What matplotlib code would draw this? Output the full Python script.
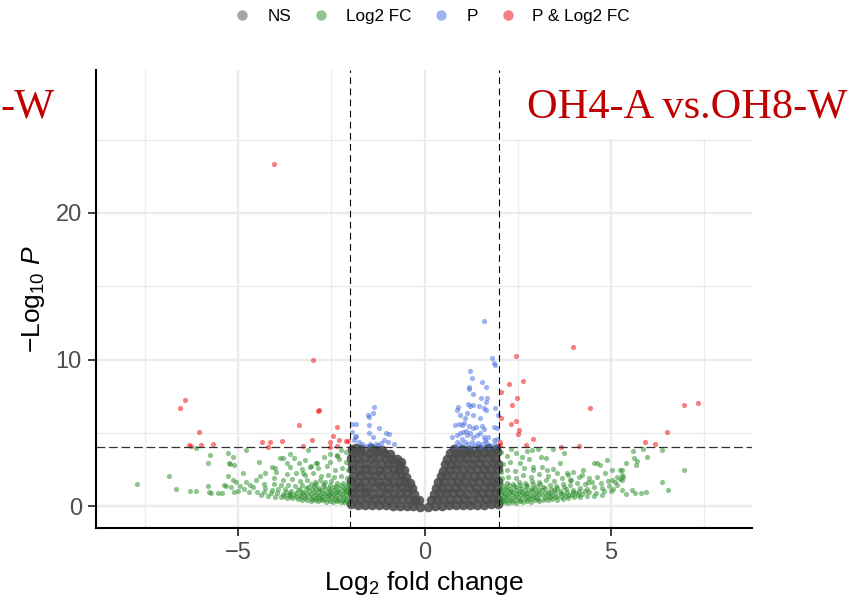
import numpy as np
import matplotlib.pyplot as plt
from matplotlib.lines import Line2D
from matplotlib.patches import Rectangle

plt.rcParams['font.family'] = ['Liberation Sans', 'DejaVu Sans']
plt.rcParams['mathtext.fontset'] = 'custom'
plt.rcParams['mathtext.rm'] = 'Liberation Sans'
plt.rcParams['mathtext.it'] = 'Liberation Sans:italic'

# ---- data (log2 fold change, -log10 p) ----
legend_labels = ['NS', 'Log2 FC', 'P', 'P & Log2 FC']
fc_cutoff = 2.0
p_cutoff = 4.03

# not significant: the dense V shaped cloud in the middle
ns_points = [
    (-1.97, 0.15), (-1.78, 0.12), (-1.6, 0.1), (-1.41, 0.08), (-1.22, 0.1), (-1.03, 0.06), (-0.85, 0.05),
    (-0.66, 0.04), (-0.47, 0.02), (-0.3, 0.0), (-0.12, -0.08),
    (-1.93, 0.52), (-1.74, 0.47), (-1.55, 0.55), (-1.36, 0.49), (-1.17, 0.5), (-0.98, 0.46), (-0.79, 0.53),
    (-0.6, 0.48), (-0.42, 0.51), (-0.25, 0.45), (-0.14, 0.4),
    (-1.96, 0.92), (-1.77, 0.88), (-1.58, 0.95), (-1.4, 0.86), (-1.2, 0.9), (-1.01, 0.93), (-0.83, 0.87),
    (-0.64, 0.91), (-0.46, 0.89), (-0.29, 0.85),
    (-1.94, 1.28), (-1.75, 1.33), (-1.56, 1.26), (-1.37, 1.31), (-1.18, 1.35), (-0.99, 1.27), (-0.8, 1.3),
    (-0.62, 1.34), (-0.45, 1.29), (-0.33, 1.25),
    (-1.97, 1.72), (-1.78, 1.68), (-1.59, 1.74), (-1.4, 1.7), (-1.21, 1.66), (-1.02, 1.73), (-0.84, 1.69),
    (-0.66, 1.71), (-0.5, 1.67), (-0.4, 1.62),
    (-1.93, 2.08), (-1.74, 2.13), (-1.55, 2.1), (-1.36, 2.06), (-1.17, 2.12), (-0.98, 2.09), (-0.8, 2.14),
    (-0.63, 2.07), (-0.49, 2.02),
    (-1.96, 2.52), (-1.77, 2.47), (-1.58, 2.55), (-1.39, 2.5), (-1.2, 2.46), (-1.01, 2.53), (-0.83, 2.49),
    (-0.68, 2.51), (-0.56, 2.45),
    (-1.94, 2.88), (-1.75, 2.93), (-1.56, 2.86), (-1.37, 2.92), (-1.18, 2.9), (-0.99, 2.87), (-0.82, 2.94),
    (-0.67, 2.82),
    (-1.97, 3.32), (-1.78, 3.27), (-1.6, 3.35), (-1.41, 3.29), (-1.22, 3.33), (-1.04, 3.28), (-0.88, 3.25),
    (-0.74, 3.2),
    (-1.92, 3.62), (-1.72, 3.68), (-1.5, 3.6), (-1.3, 3.7), (-1.1, 3.64), (-0.92, 3.55),
    (-1.95, 3.92), (-1.7, 3.88), (-1.45, 3.95), (-1.28, 3.85), (-1.85, 3.97), (-1.15, 3.82), (-0.62, 3.05),
    (0.1, -0.05), (0.28, 0.02), (0.46, 0.05), (0.65, 0.08), (0.84, 0.06), (1.03, 0.1), (1.22, 0.09),
    (1.41, 0.12), (1.6, 0.1), (1.79, 0.14), (1.97, 0.16),
    (0.16, 0.42), (0.32, 0.48), (0.5, 0.52), (0.69, 0.47), (0.88, 0.53), (1.07, 0.5), (1.26, 0.46),
    (1.45, 0.54), (1.64, 0.49), (1.83, 0.51), (1.96, 0.48),
    (0.24, 0.87), (0.4, 0.92), (0.58, 0.88), (0.77, 0.94), (0.96, 0.9), (1.15, 0.86), (1.34, 0.93),
    (1.53, 0.89), (1.72, 0.91), (1.91, 0.88),
    (0.3, 1.26), (0.45, 1.31), (0.63, 1.28), (0.82, 1.34), (1.01, 1.29), (1.2, 1.32), (1.39, 1.27),
    (1.58, 1.33), (1.77, 1.3), (1.95, 1.28),
    (0.36, 1.66), (0.52, 1.71), (0.7, 1.74), (0.89, 1.68), (1.08, 1.72), (1.27, 1.69), (1.46, 1.73),
    (1.65, 1.7), (1.84, 1.67), (1.97, 1.72),
    (0.43, 2.05), (0.58, 2.1), (0.76, 2.13), (0.95, 2.08), (1.14, 2.12), (1.33, 2.07), (1.52, 2.11),
    (1.71, 2.14), (1.9, 2.09),
    (0.5, 2.44), (0.65, 2.5), (0.83, 2.53), (1.02, 2.48), (1.21, 2.52), (1.4, 2.46), (1.59, 2.54),
    (1.78, 2.49), (1.96, 2.51),
    (0.55, 2.85), (0.7, 2.91), (0.88, 2.88), (1.07, 2.93), (1.26, 2.87), (1.45, 2.92), (1.64, 2.89),
    (1.83, 2.94), (1.97, 2.9),
    (0.6, 3.25), (0.75, 3.3), (0.93, 3.34), (1.12, 3.28), (1.31, 3.32), (1.5, 3.27), (1.69, 3.35),
    (1.88, 3.31),
    (0.68, 3.6), (0.85, 3.66), (1.03, 3.62), (1.22, 3.7), (1.41, 3.64), (1.6, 3.68), (1.79, 3.61),
    (1.95, 3.67),
    (0.8, 3.9), (1.0, 3.94), (1.2, 3.87), (1.45, 3.92), (1.7, 3.95), (1.92, 3.89),
]

# |log2 FC| > 2 only
fc_points = [
    (-2.05, 0.22), (-2.15, 0.3), (-2.25, 0.26), (-2.35, 0.33), (-2.45, 0.28), (-2.55, 0.36), (-2.65, 0.31),
    (-2.75, 0.4), (-2.85, 0.35), (-2.95, 0.42), (-3.05, 0.38), (-3.15, 0.46), (-3.28, 0.44), (-3.4, 0.5),
    (-3.55, 0.55), (-3.7, 0.58), (-3.85, 0.62), (-4.0, 0.66), (-4.2, 0.72), (-4.4, 0.78),
    (-2.1, 0.4), (-2.2, 0.45), (-2.32, 0.42), (-2.42, 0.48), (-2.58, 0.47), (-2.7, 0.52), (-2.8, 0.5),
    (-2.92, 0.56), (-3.02, 0.52), (-3.2, 0.58), (-3.32, 0.6), (-3.45, 0.65), (-3.62, 0.68), (-3.78, 0.72),
    (-2.08, 0.55), (-2.18, 0.62), (-2.3, 0.58), (-2.4, 0.66), (-2.52, 0.6), (-2.62, 0.68), (-2.74, 0.63),
    (-2.86, 0.7), (-2.98, 0.65), (-3.1, 0.72), (-3.22, 0.68), (-3.35, 0.76), (-3.5, 0.8), (-3.64, 0.75),
    (-3.8, 0.85), (-3.95, 0.9), (-4.12, 0.88), (-4.3, 0.95), (-4.5, 1.0),
    (-2.12, 0.75), (-2.22, 0.8), (-2.34, 0.76), (-2.46, 0.82), (-2.56, 0.78), (-2.68, 0.84), (-2.8, 0.8),
    (-2.92, 0.86), (-3.05, 0.84), (-3.18, 0.9), (-3.3, 0.88), (-3.46, 0.94), (-3.6, 0.92), (-3.72, 0.98),
    (-2.04, 0.88), (-2.14, 0.95), (-2.26, 0.9), (-2.38, 0.98), (-2.5, 0.92), (-2.6, 1.0), (-2.72, 0.94),
    (-2.84, 1.02), (-2.97, 0.96), (-3.1, 1.05), (-3.25, 1.0), (-3.4, 1.1), (-3.58, 1.05), (-3.75, 1.15),
    (-3.92, 1.2), (-4.1, 1.12), (-4.28, 1.25),
    (-2.1, 1.05), (-2.2, 1.1), (-2.32, 1.06), (-2.44, 1.14), (-2.55, 1.08), (-2.66, 1.16), (-2.78, 1.12),
    (-2.9, 1.2), (-3.03, 1.16), (-3.18, 1.22), (-3.35, 1.2),
    (-2.06, 1.2), (-2.17, 1.28), (-2.3, 1.22), (-2.44, 1.32), (-2.57, 1.25), (-2.7, 1.35), (-2.83, 1.28),
    (-2.97, 1.38), (-3.12, 1.3), (-3.3, 1.42), (-3.48, 1.36), (-3.66, 1.48), (-3.85, 1.42), (-4.05, 1.55),
    (-4.3, 1.5),
    (-2.1, 1.38), (-2.24, 1.45), (-2.38, 1.4), (-2.55, 1.48), (-2.72, 1.5), (-2.9, 1.52), (-3.05, 1.55),
    (-2.05, 1.55), (-2.2, 1.62), (-2.36, 1.58), (-2.5, 1.7), (-2.66, 1.64), (-2.8, 1.78), (-2.95, 1.68),
    (-3.15, 1.8), (-3.35, 1.72), (-3.55, 1.85), (-3.8, 1.78), (-4.05, 1.9),
    (-2.08, 1.95), (-2.25, 2.05), (-2.42, 1.98), (-2.6, 2.15), (-2.78, 2.05), (-2.98, 2.25), (-3.2, 2.1),
    (-3.45, 2.3), (-3.7, 2.2), (-3.98, 2.35),
    (-2.05, 2.45), (-2.22, 2.6), (-2.4, 2.5), (-2.62, 2.72), (-2.85, 2.6), (-3.05, 2.78), (-3.3, 2.55),
    (-3.6, 2.68),
    (-2.1, 3.0), (-2.3, 3.2), (-2.55, 3.05), (-2.9, 2.95), (-3.2, 3.15), (-3.5, 3.3), (-2.35, 3.5),
    (-2.12, 3.7), (-2.25, 3.85), (-4.8, 3.86),
    (-7.7, 1.5), (-6.86, 2.09), (-6.66, 1.16), (-6.3, 1.06), (-6.12, 1.04), (-6.13, 3.97), (-5.75, 3.52),
    (-5.8, 2.95), (-5.82, 1.38), (-5.79, 0.95), (-5.73, 0.93), (-5.54, 0.89), (-5.44, 0.89), (-5.37, 1.43),
    (-5.27, 3.65), (-5.15, 3.34), (-5.25, 2.97), (-5.21, 2.88), (-5.11, 2.79), (-5.28, 2.09), (-5.13, 1.79),
    (-5.06, 1.63), (-5.33, 1.41), (-5.2, 1.3), (-4.86, 2.25), (-4.79, 1.68), (-4.68, 1.45), (-4.52, 1.79),
    (-4.41, 2.07), (-4.43, 3.0), (-4.29, 2.25), (-4.1, 2.7), (-4.01, 2.59), (-3.89, 3.27), (-3.79, 3.27),
    (-3.62, 3.56), (-3.69, 2.97), (-3.37, 2.95), (-3.12, 3.86), (-3.25, 2.25), (-3.07, 2.7), (-2.89, 2.93),
    (-2.71, 3.38), (-2.53, 3.56), (-2.35, 3.43),
    (-5.0, 1.05), (-4.85, 1.2), (-4.7, 0.95), (-4.6, 1.3), (-4.95, 1.4), (-5.1, 0.98),
    (2.05, 0.2), (2.15, 0.26), (2.25, 0.22), (2.35, 0.3), (2.45, 0.25), (2.55, 0.33), (2.65, 0.28),
    (2.75, 0.36), (2.85, 0.32), (2.95, 0.4), (3.06, 0.35), (3.18, 0.43), (3.3, 0.4), (3.42, 0.48),
    (3.55, 0.45), (3.7, 0.52), (3.85, 0.55), (4.0, 0.6), (4.18, 0.62), (4.35, 0.68), (4.55, 0.72),
    (4.75, 0.78),
    (2.1, 0.38), (2.2, 0.42), (2.32, 0.4), (2.42, 0.46), (2.56, 0.44), (2.68, 0.5), (2.8, 0.48),
    (2.92, 0.55), (3.04, 0.52), (3.22, 0.58), (3.36, 0.6), (3.5, 0.64), (3.66, 0.66), (3.8, 0.7),
    (3.96, 0.74), (4.12, 0.78),
    (2.08, 0.52), (2.18, 0.6), (2.3, 0.55), (2.42, 0.64), (2.54, 0.58), (2.66, 0.67), (2.78, 0.6),
    (2.9, 0.7), (3.02, 0.65), (3.15, 0.74), (3.28, 0.68), (3.42, 0.78), (3.56, 0.72), (3.72, 0.84),
    (3.88, 0.8), (4.05, 0.9), (4.22, 0.85), (4.4, 0.96), (4.6, 0.92), (4.8, 1.02), (5.0, 1.06),
    (2.12, 0.72), (2.22, 0.78), (2.34, 0.74), (2.46, 0.8), (2.58, 0.76), (2.7, 0.82), (2.82, 0.78),
    (2.95, 0.86), (3.08, 0.82), (3.22, 0.9), (3.36, 0.88), (3.5, 0.95), (3.66, 0.92), (3.82, 1.0),
    (3.98, 0.98), (4.14, 1.04), (4.3, 1.02),
    (2.04, 0.85), (2.14, 0.92), (2.26, 0.88), (2.38, 0.97), (2.5, 0.9), (2.62, 1.0), (2.75, 0.94),
    (2.88, 1.04), (3.02, 0.97), (3.16, 1.08), (3.3, 1.0), (3.46, 1.12), (3.62, 1.05), (3.8, 1.18),
    (3.98, 1.1), (4.16, 1.22), (4.35, 1.15), (4.55, 1.3), (4.75, 1.25), (4.95, 1.38), (5.15, 1.45),
    (2.1, 1.02), (2.2, 1.08), (2.32, 1.05), (2.44, 1.12), (2.56, 1.06), (2.68, 1.14), (2.8, 1.1),
    (2.94, 1.18), (3.08, 1.14), (3.24, 1.22), (3.4, 1.2), (3.56, 1.28), (3.74, 1.3),
    (2.06, 1.18), (2.18, 1.26), (2.3, 1.2), (2.44, 1.3), (2.58, 1.24), (2.72, 1.35), (2.87, 1.28),
    (3.02, 1.4), (3.18, 1.32), (3.35, 1.45), (3.52, 1.38), (3.7, 1.5), (3.9, 1.44), (4.1, 1.58),
    (4.3, 1.52), (4.5, 1.65), (4.72, 1.6), (4.92, 1.72), (5.1, 1.68), (5.25, 1.85),
    (2.12, 1.36), (2.26, 1.42), (2.4, 1.38), (2.56, 1.46), (2.74, 1.48), (2.92, 1.5), (3.1, 1.55),
    (2.05, 1.52), (2.2, 1.6), (2.36, 1.55), (2.52, 1.68), (2.7, 1.6), (2.88, 1.75), (3.06, 1.66),
    (3.26, 1.8), (3.46, 1.72), (3.68, 1.9), (3.92, 1.82), (4.15, 1.98), (4.4, 1.9),
    (2.08, 1.9), (2.25, 2.02), (2.44, 1.95), (2.64, 2.12), (2.85, 2.0), (3.08, 2.2), (3.3, 2.08),
    (3.56, 2.28), (3.84, 2.15),
    (2.05, 2.35), (2.22, 2.5), (2.42, 2.4), (2.66, 2.62), (2.9, 2.5), (3.15, 2.7), (3.45, 2.55),
    (2.1, 2.85), (2.3, 3.05), (2.55, 2.95), (2.8, 3.25), (2.2, 3.4), (2.45, 3.6), (2.05, 3.7), (2.32, 3.88),
    (5.59, 3.77), (5.87, 3.88), (6.36, 3.84), (5.61, 3.31), (5.7, 3.07), (5.67, 2.82), (5.97, 3.36),
    (5.39, 2.93), (6.96, 2.47), (6.37, 1.64), (6.54, 1.13), (5.56, 1.13), (5.64, 0.91), (5.8, 0.93),
    (5.93, 0.95), (5.39, 0.84), (5.3, 1.11), (5.29, 2.47), (5.29, 2.13), (5.29, 1.79), (5.33, 2.02),
    (5.24, 2.47), (5.15, 2.02), (5.02, 1.79), (4.88, 3.16), (4.71, 2.82), (4.62, 2.93), (5.06, 1.16),
    (2.61, 3.34), (2.74, 3.77), (2.88, 3.84), (3.12, 3.34), (3.26, 3.27), (3.44, 3.89), (3.74, 3.61),
    (3.63, 2.93), (3.05, 3.89), (2.92, 2.7), (3.28, 2.47), (4.26, 2.47), (4.53, 2.93), (4.21, 2.13),
    (3.99, 2.36), (3.81, 2.25), (3.9, 1.79), (4.39, 1.68), (4.62, 2.02), (4.84, 2.25), (5.02, 2.47),
]

# p below cutoff only
p_points = [
    (-1.37, 6.79), (-1.53, 6.22), (-1.5, 6.07), (-1.38, 6.38), (-1.95, 5.61), (-1.84, 5.63), (-1.48, 5.54),
    (-1.23, 5.34), (-1.95, 5.09), (-1.87, 4.7), (-1.84, 4.79), (-1.48, 5.02), (-1.39, 4.74), (-1.04, 4.98),
    (-0.96, 4.93), (-1.75, 4.4), (-1.68, 4.25), (-1.89, 4.52), (-1.3, 4.25), (-1.17, 4.34), (-1.08, 4.52),
    (-0.97, 4.4), (-0.82, 4.25), (-1.25, 4.16), (-1.46, 4.25), (-1.57, 4.11),
    (1.58, 12.63), (1.81, 10.09), (1.86, 9.75), (1.9, 9.63), (1.22, 9.2), (1.27, 8.72), (1.53, 8.47),
    (1.66, 8.13), (1.18, 8.15), (1.19, 7.97), (1.3, 7.68), (1.52, 7.36), (1.68, 7.4), (1.64, 7.13),
    (0.89, 6.79), (0.86, 6.56), (1.17, 6.97), (1.22, 6.84), (1.31, 6.88), (1.45, 6.84), (1.59, 6.68),
    (1.66, 6.56), (1.9, 6.72), (1.08, 6.0), (0.95, 6.22), (1.31, 6.22), (1.49, 6.0), (1.14, 6.34),
    (0.81, 5.54), (0.91, 5.61), (1.0, 5.54), (1.05, 5.7), (1.2, 5.47), (1.29, 5.32), (1.39, 5.41),
    (1.53, 5.47), (1.59, 5.25), (1.86, 5.43), (1.94, 5.32), (1.98, 6.22),
    (0.73, 4.74), (0.86, 4.86), (0.95, 4.98), (1.04, 5.09), (1.13, 4.86), (1.22, 4.98), (1.31, 4.74),
    (1.4, 4.86), (1.49, 4.98), (1.58, 4.74), (1.71, 4.7), (1.85, 4.52), (1.94, 4.57),
    (0.86, 4.4), (0.95, 4.25), (1.08, 4.4), (1.17, 4.25), (1.27, 4.4), (1.35, 4.16), (1.44, 4.34),
    (1.53, 4.25), (1.66, 4.38), (1.76, 4.16), (1.89, 4.25), (1.98, 4.12), (0.81, 4.1), (1.04, 4.05),
    (1.27, 4.05), (1.49, 4.05), (1.72, 4.05), (1.0, 4.6), (1.62, 4.55), (1.12, 5.15),
]

# both cutoffs passed
pfc_points = [
    (-4.05, 23.33), (-2.98, 10.0),
    (-6.42, 7.22), (-6.55, 6.72), (-6.05, 5.04), (-6.33, 4.18), (-6.27, 4.12), (-6.0, 4.17), (-5.68, 4.28),
    (-4.37, 4.4), (-4.15, 4.36), (-3.83, 4.45), (-4.19, 4.05), (-3.25, 4.13), (-3.03, 4.55), (-3.38, 5.56),
    (-2.87, 6.5), (-2.84, 6.58), (-2.36, 5.38), (-2.45, 4.76), (-2.53, 4.36), (-2.3, 4.5), (-2.54, 4.05),
    (-2.35, 4.08), (-2.1, 4.46), (-2.05, 4.45),
    (3.98, 10.88), (2.45, 10.22), (2.63, 8.56), (2.27, 8.31), (2.05, 7.77), (2.48, 7.36), (2.34, 6.88),
    (4.44, 6.72), (6.95, 6.9), (7.32, 7.02), (2.05, 6.02), (2.45, 5.84), (2.33, 5.63), (2.54, 5.18),
    (2.5, 4.93), (2.91, 4.61), (2.72, 4.18), (2.03, 4.38), (2.03, 4.18), (3.67, 4.06), (4.15, 4.13),
    (5.9, 4.41), (6.18, 4.27), (6.5, 5.04),
]

colors = ['#4D4D4D', '#228B22', '#4169E1', '#EE0000']

fig = plt.figure(figsize=(8.56, 6), dpi=100)
ax = fig.add_axes([95.7 / 856, 1 - 527.7 / 600, (752 - 95.7) / 856, (527.7 - 70) / 600])

groups = [ns_points, fc_points, p_points, pfc_points]
for i, pts in enumerate(groups):
    arr = np.array(pts)
    if i == 0:
        ax.scatter(arr[:, 0], arr[:, 1], s=48, color=colors[i], alpha=0.9, linewidths=0, zorder=2)
    else:
        ax.scatter(arr[:, 0], arr[:, 1], s=14, color=colors[i], alpha=0.5, linewidths=0, zorder=2 + i)

# cutoff lines
for xv in (-fc_cutoff, fc_cutoff):
    ax.axvline(xv, color='black', lw=0.8, ls=(0, (6, 4)), zorder=6)
ax.axhline(p_cutoff, color='#333333', lw=0.9, ls=(0, (7, 3)), zorder=6)

ax.set_xlim(-8.82, 8.78)
ax.set_ylim(-1.46, 29.75)
ax.set_xticks([-5, 0, 5])
ax.set_xticklabels(['\u22125', '0', '5'])
ax.set_xticks([-7.5, -2.5, 2.5, 7.5], minor=True)
ax.set_yticks([0, 10, 20])
ax.set_yticks([5, 15, 25], minor=True)
ax.set_axisbelow(True)
ax.grid(which='major', color='#EBEBEB', lw=1.7)
ax.grid(which='minor', color='#EBEBEB', lw=0.9)
ax.tick_params(which='minor', length=0)
ax.tick_params(which='major', length=6, width=1.3, color='#333333', labelsize=17,
               labelcolor='#4D4D4D', pad=4)
for side in ('top', 'right'):
    ax.spines[side].set_visible(False)
for side in ('left', 'bottom'):
    ax.spines[side].set_linewidth(1.5)
    ax.spines[side].set_color('black')

ax.set_xlabel(r'Log$_2$ fold change', fontsize=19, labelpad=4)
ax.set_ylabel(r'$-$Log$_{10}$ $P$', fontsize=19, labelpad=6)

# white box behind the comparison title
ax.add_patch(Rectangle((2.24, 25.05), 10, 10, facecolor='white', edgecolor='none', zorder=1))
fig.text(527 / 856, 1 - 118 / 600, 'OH4-A vs.OH8-W', color='#C00000', fontsize=30.5,
         family='Liberation Serif', ha='left', va='baseline')
fig.text(0.5 / 856, 1 - 118 / 600, '-W', color='#C00000', fontsize=30.5,
         family='Liberation Serif', ha='left', va='baseline')

handles = [Line2D([], [], marker='o', ls='', markersize=7.5, markerfacecolor=c,
                  markeredgecolor='none', alpha=0.5) for c in colors]
fig.legend(handles, legend_labels, loc='upper center', bbox_to_anchor=(432 / 856, 1.0), ncol=4,
           frameon=False, fontsize=12.3, handlelength=1.0, handletextpad=0.96, columnspacing=1.25,
           borderaxespad=0.15)

fig.savefig('out.png', dpi=100)
